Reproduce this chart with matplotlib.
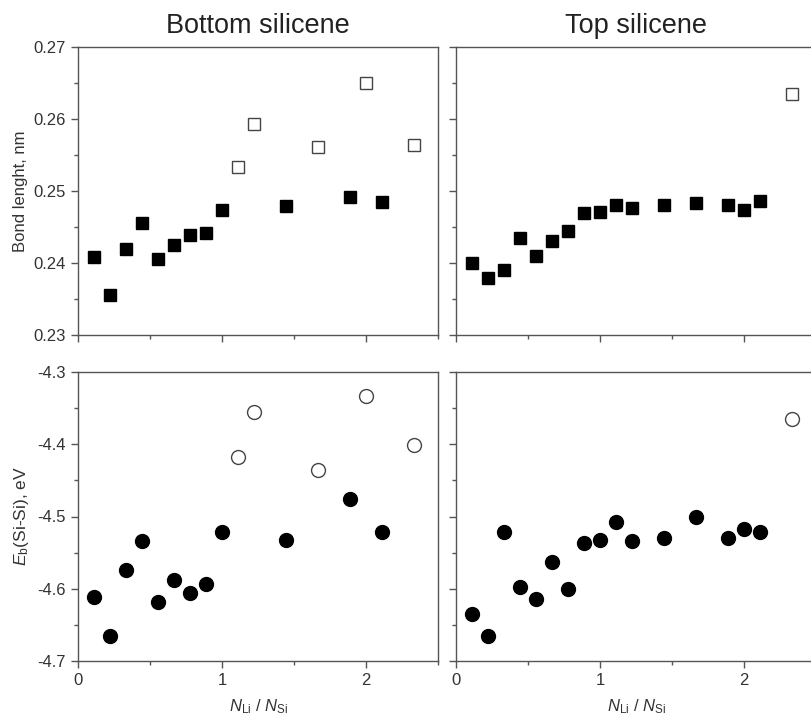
import numpy as np
import matplotlib
matplotlib.use('Agg')
import matplotlib.pyplot as plt
from matplotlib.ticker import MultipleLocator

plt.rcParams['font.family'] = ['Liberation Sans', 'DejaVu Sans']
plt.rcParams['mathtext.fontset'] = 'custom'
plt.rcParams['mathtext.rm'] = 'Liberation Sans'
plt.rcParams['mathtext.it'] = 'Liberation Sans:italic'

# Li/Si ratio values (n/9)
x_bot_fill = np.array([1, 2, 3, 4, 5, 6, 7, 8, 9, 13, 17, 19]) / 9.0
x_bot_open = np.array([10, 11, 15, 18, 21]) / 9.0
x_top_fill = np.array([1, 2, 3, 4, 5, 6, 7, 8, 9, 10, 11, 13, 15, 17, 18, 19]) / 9.0
x_top_open = np.array([21]) / 9.0

# bond length, nm
bl_bot_fill = [0.2408, 0.2356, 0.2420, 0.2456, 0.2405, 0.2425, 0.2439, 0.2442,
               0.2473, 0.2479, 0.2492, 0.2485]
bl_bot_open = [0.2534, 0.2593, 0.2561, 0.2650, 0.2564]
bl_top_fill = [0.2400, 0.2379, 0.2390, 0.2435, 0.2410, 0.2431, 0.2444, 0.2470,
               0.2471, 0.2480, 0.2476, 0.2480, 0.2483, 0.2480, 0.2474, 0.2486]
bl_top_open = [0.2635]

# bond energy, eV
eb_bot_fill = [-4.612, -4.665, -4.574, -4.534, -4.618, -4.588, -4.606, -4.594,
               -4.521, -4.533, -4.476, -4.522]
eb_bot_open = [-4.4175, -4.356, -4.435, -4.333, -4.401]
eb_top_fill = [-4.635, -4.666, -4.521, -4.598, -4.614, -4.563, -4.600, -4.536,
               -4.532, -4.508, -4.534, -4.530, -4.501, -4.530, -4.517, -4.521]
eb_top_open = [-4.365]

fig = plt.figure(figsize=(8.11, 7.18), dpi=100)
W, H = 811.0, 718.0
ax_w = 360 / W
ax_tl = fig.add_axes([78 / W, 1 - 335 / H, ax_w, 288 / H])
ax_tr = fig.add_axes([456 / W, 1 - 335 / H, ax_w, 288 / H])
ax_bl = fig.add_axes([78 / W, 1 - 661 / H, ax_w, 289 / H])
ax_br = fig.add_axes([456 / W, 1 - 661 / H, ax_w, 289 / H])

edge = '#555555'
tick_col = '#333333'

for ax in (ax_tl, ax_tr, ax_bl, ax_br):
    ax.set_xlim(0, 2.5)
    ax.xaxis.set_major_locator(MultipleLocator(1))
    ax.xaxis.set_minor_locator(MultipleLocator(0.5))
    for s in ax.spines.values():
        s.set_color(edge)
        s.set_linewidth(1.0)
    ax.tick_params(which='major', direction='out', length=5, width=1,
                   color=edge, labelsize=12, labelcolor=tick_col)
    ax.tick_params(which='minor', direction='out', length=3, width=1, color=edge)

for ax in (ax_tl, ax_tr):
    ax.set_ylim(0.23, 0.27)
    ax.yaxis.set_major_locator(MultipleLocator(0.01))
    ax.yaxis.set_minor_locator(MultipleLocator(0.005))
    ax.tick_params(labelbottom=False)

for ax in (ax_bl, ax_br):
    ax.set_ylim(-4.7, -4.3)
    ax.yaxis.set_major_locator(MultipleLocator(0.1))
    ax.yaxis.set_minor_locator(MultipleLocator(0.05))
    ax.set_xlabel(r'$N_{\mathrm{Li}}$ / $N_{\mathrm{Si}}$', fontsize=12,
                  color=tick_col, labelpad=7)

for ax in (ax_tr, ax_br):
    ax.tick_params(labelleft=False)

ax_tl.yaxis.set_major_formatter(plt.FuncFormatter(lambda v, p: '%.2f' % v))
ax_bl.yaxis.set_major_formatter(plt.FuncFormatter(lambda v, p: '%.1f' % v))

sq = dict(marker='s', linestyle='none', markersize=8.5)
ci = dict(marker='o', linestyle='none', markersize=10)

ax_tl.plot(x_bot_fill, bl_bot_fill, color='black', **sq)
ax_tl.plot(x_bot_open, bl_bot_open, markerfacecolor='white',
           markeredgecolor='#444444', markeredgewidth=1, **sq)
ax_tr.plot(x_top_fill, bl_top_fill, color='black', **sq)
ax_tr.plot(x_top_open, bl_top_open, markerfacecolor='white',
           markeredgecolor='#444444', markeredgewidth=1, **sq)

ax_bl.plot(x_bot_fill, eb_bot_fill, color='black', **ci)
ax_bl.plot(x_bot_open, eb_bot_open, markerfacecolor='white',
           markeredgecolor='#444444', markeredgewidth=1, **ci)
ax_br.plot(x_top_fill, eb_top_fill, color='black', **ci)
ax_br.plot(x_top_open, eb_top_open, markerfacecolor='white',
           markeredgecolor='#444444', markeredgewidth=1, **ci)

ax_tl.set_ylabel('Bond lenght, nm', fontsize=12, color=tick_col, labelpad=4)
ax_bl.set_ylabel(r'$E_{\mathrm{b}}$(Si-Si), eV', fontsize=12.5, color=tick_col,
                 labelpad=5)

fig.text(258 / W, 1 - 26 / H, 'Bottom silicene', fontsize=19.5,
         ha='center', va='center', color='#222222')
fig.text(636 / W, 1 - 26 / H, 'Top silicene', fontsize=19.5,
         ha='center', va='center', color='#222222')

fig.savefig('out.png', dpi=100)
